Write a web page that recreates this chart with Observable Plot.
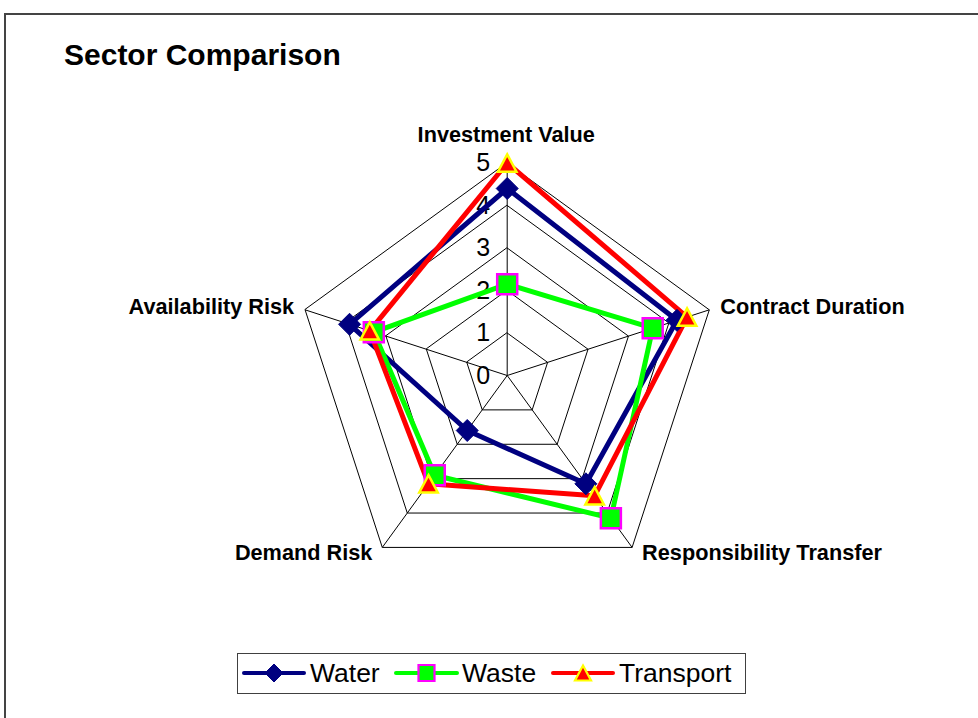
<!DOCTYPE html>
<html>
<head>
<meta charset="utf-8">
<script src="https://cdn.jsdelivr.net/npm/d3@7"></script>
<script src="https://cdn.jsdelivr.net/npm/@observablehq/plot@0.6"></script>
<style>
  html, body { margin: 0; padding: 0; background: #fff; overflow: hidden; }
  #wrap { position: relative; width: 978px; height: 718px; overflow: hidden; font-family: Arial, "Liberation Sans", sans-serif; }
  #frame { position: absolute; left: 4px; top: 13px; width: 1200px; height: 1200px; border: 2px solid #444; box-sizing: border-box; pointer-events: none; }
  #title { position: absolute; left: 64px; top: 40px; font-size: 30px; line-height: 30px; font-weight: bold; color: #000; white-space: nowrap; }
  #legend { position: absolute; left: 237px; top: 653px; width: 509px; height: 41px; border: 1px solid #404040; box-sizing: border-box; background: #fff; }
  #legend svg { position: absolute; left: 0; top: 0; }
  #chart { position: absolute; left: 0; top: 0; }
</style>
</head>
<body>
<div id="wrap">
  <div id="chart"></div>
  <div id="frame"></div>
  <div id="title">Sector Comparison</div>
  <div id="legend"></div>
</div>
<script>
// ---- data ----
const axes = ["Investment Value", "Contract Duration", "Responsibility Transfer", "Demand Risk", "Availability Risk"];
const series = ["Water", "Waste", "Transport"];
const water = [4.4, 4.2, 3.15, 1.6, 3.9];
const waste = [2.15, 3.6, 4.15, 2.9, 3.3];
const transport = [5, 4.45, 3.5, 3.15, 3.4];
const ticks = [0, 1, 2, 3, 4, 5];
const maxValue = 5;

// ---- styles ----
const lineColor = { Water: "#000080", Waste: "#00FF00", Transport: "#FF0000" };
const markFill = { Water: "#000080", Waste: "#00FF00", Transport: "#FF0000" };
const markStroke = { Water: "#000080", Waste: "#FF00FF", Transport: "#FFFF00" };

const W = 978, H = 718;
const cx = 506.7, cy = 375, k = 42.5; // layout: centre and pixels per unit

const values = { Water: water, Waste: waste, Transport: transport };
const angle = i => Math.PI / 2 - i * 2 * Math.PI / axes.length;

const rows = [];
series.forEach(s => values[s].forEach((v, i) => rows.push({
  series: s, axis: axes[i], value: v,
  x: v * Math.cos(angle(i)), y: v * Math.sin(angle(i))
})));

const grid = [];
ticks.filter(t => t > 0).forEach(t => axes.forEach((a, i) => grid.push({
  level: t, x: t * Math.cos(angle(i)), y: t * Math.sin(angle(i))
})));
const spokes = axes.map((a, i) => ({ axis: a, x: maxValue * Math.cos(angle(i)), y: maxValue * Math.sin(angle(i)) }));

const labelPos = [
  { dx: -1, dy: -27.5, anchor: "middle" },
  { dx: 11, dy: -2.6, anchor: "start" },
  { dx: 10, dy: 5.6, anchor: "start" },
  { dx: -10, dy: 5.6, anchor: "end" },
  { dx: -11, dy: -2.6, anchor: "end" }
];

// custom symbols centred in their bounding boxes
const diamondSym = { draw(ctx, size) { const h = Math.sqrt(size) / 2; ctx.moveTo(0, -h); ctx.lineTo(h, 0); ctx.lineTo(0, h); ctx.lineTo(-h, 0); ctx.closePath(); } };
const squareSym = { draw(ctx, size) { const h = Math.sqrt(size) / 2; ctx.rect(-h, -h, 2 * h, 2 * h); } };
const triSym = { draw(ctx, size) { const s = Math.sqrt(size); const h = s * 0.47; ctx.moveTo(0, -h); ctx.lineTo(s / 2, h); ctx.lineTo(-s / 2, h); ctx.closePath(); } };
const rFor = px => px / Math.sqrt(Math.PI);

const font = "Arial, 'Liberation Sans', sans-serif";

const plot = Plot.plot({
  width: W, height: H,
  marginTop: 0, marginRight: 0, marginBottom: 0, marginLeft: 0,
  x: { domain: [-cx / k, (W - cx) / k], axis: null },
  y: { domain: [-(H - cy) / k, cy / k], axis: null },
  style: { fontFamily: font, background: "transparent", overflow: "visible" },
  marks: [
    Plot.line(grid, { x: "x", y: "y", z: "level", curve: "linear-closed", stroke: "#000", strokeWidth: 1 }),
    Plot.link(spokes, { x1: 0, y1: 0, x2: "x", y2: "y", stroke: "#000", strokeWidth: 1 }),
    Plot.text(ticks, { x: 0, y: d => d, text: d => String(d), dx: -17, textAnchor: "end", fontSize: 25, fill: "#000" }),
    Plot.text(spokes, { x: "x", y: "y", text: "axis", fontSize: 21.7, fontWeight: "bold", fill: "#000" }),
    Plot.line(rows, { x: "x", y: "y", z: "series", stroke: d => lineColor[d.series], curve: "linear-closed", strokeWidth: 5, strokeLinejoin: "round" }),
    Plot.dot(rows.filter(d => d.series === "Water"), { x: "x", y: "y", symbol: diamondSym, r: rFor(22), fill: markFill.Water, stroke: markStroke.Water, strokeWidth: 1 }),
    Plot.dot(rows.filter(d => d.series === "Waste"), { x: "x", y: "y", symbol: squareSym, r: rFor(20), fill: markFill.Waste, stroke: markStroke.Waste, strokeWidth: 2.5 }),
    Plot.dot(rows.filter(d => d.series === "Transport"), { x: "x", y: "y", symbol: triSym, r: rFor(18.5), fill: markFill.Transport, stroke: markStroke.Transport, strokeWidth: 2.5, strokeLinejoin: "miter" })
  ]
});
document.getElementById("chart").appendChild(plot);

// per-axis placement of the category labels
{
  const svg = d3.select(plot);
  const groups = svg.selectAll("g[aria-label='text']");
  const labelGroup = groups.filter((d, i) => i === 1);
  labelGroup.selectAll("text").each(function (d, i) {
    const p = labelPos[i];
    const sel = d3.select(this);
    sel.attr("text-anchor", p.anchor);
    const t = sel.attr("transform") || "";
    sel.attr("transform", t + ` translate(${p.dx},${p.dy})`);
  });
}

// ---- legend ----
{
  const lg = d3.select("#legend").append("svg").attr("width", 507).attr("height", 39);
  const cyL = 19;
  const items = [
    { s: "Water", x0: 6, x1: 66, tx: 72 },
    { s: "Waste", x0: 158, x1: 219, tx: 224 },
    { s: "Transport", x0: 315, x1: 375, tx: 381 }
  ];
  const sym = { Water: diamondSym, Waste: squareSym, Transport: triSym };
  const symPx = { Water: 18, Waste: 16, Transport: 16 };
  items.forEach(it => {
    lg.append("line").attr("x1", it.x0).attr("x2", it.x1).attr("y1", cyL).attr("y2", cyL)
      .attr("stroke", lineColor[it.s]).attr("stroke-width", 4).attr("stroke-linecap", "round");
    lg.append("path").attr("d", d3.symbol(sym[it.s], symPx[it.s] * symPx[it.s])())
      .attr("transform", `translate(${(it.x0 + it.x1) / 2},${cyL})`)
      .attr("fill", markFill[it.s]).attr("stroke", markStroke[it.s])
      .attr("stroke-width", it.s === "Water" ? 1 : 2.2);
    lg.append("text").attr("x", it.tx).attr("y", cyL).attr("dy", "0.35em")
      .attr("font-family", font).attr("font-size", 26.5).attr("fill", "#000").text(it.s);
  });
}
</script>
</body>
</html>
